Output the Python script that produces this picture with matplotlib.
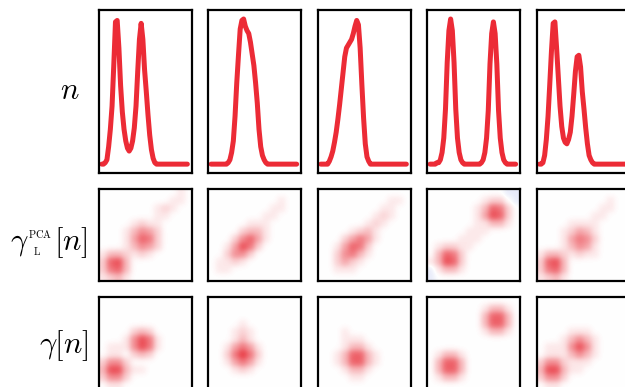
# -*- coding: utf-8 -*-
"""
Densities n(x) (top row) and their reduced density matrices:
PCA model gamma_L^PCA[n] (middle row) and exact gamma[n] (bottom row).
Output: out.png
"""
import numpy as np
import matplotlib
matplotlib.use("Agg")
from matplotlib import pyplot as plt
from matplotlib.colors import LinearSegmentedColormap

##############################################################################
# DATA
##############################################################################

# sample positions of n(x) (51 points across the box)
X = np.linspace(0.0, 1.0, 51)

N_1 = [0.00, 0.00, 0.01, 0.03, 0.12, 0.24, 0.40, 0.68, 0.98, 0.99,
       0.80, 0.54, 0.36, 0.24, 0.16, 0.11, 0.09, 0.11, 0.16, 0.25,
       0.40, 0.64, 0.86, 0.97, 0.86, 0.65, 0.50, 0.34, 0.20, 0.10,
       0.04, 0.01, 0.00, 0.00, 0.00, 0.00, 0.00, 0.00, 0.00, 0.00,
       0.00, 0.00, 0.00, 0.00, 0.00, 0.00, 0.00, 0.00, 0.00, 0.00,
       0.00]
N_2 = [0.00, 0.00, 0.00, 0.00, 0.00, 0.00, 0.00, 0.00, 0.00, 0.00,
       0.01, 0.03, 0.08, 0.16, 0.33, 0.56, 0.75, 0.93, 0.99, 1.00,
       0.95, 0.92, 0.90, 0.84, 0.76, 0.68, 0.56, 0.42, 0.24, 0.12,
       0.06, 0.03, 0.01, 0.00, 0.00, 0.00, 0.00, 0.00, 0.00, 0.00,
       0.00, 0.00, 0.00, 0.00, 0.00, 0.00, 0.00, 0.00, 0.00, 0.00,
       0.00]
N_3 = [0.00, 0.00, 0.00, 0.00, 0.00, 0.02, 0.05, 0.09, 0.15, 0.22,
       0.31, 0.41, 0.52, 0.63, 0.74, 0.80, 0.82, 0.84, 0.86, 0.90,
       0.95, 0.99, 0.96, 0.80, 0.55, 0.32, 0.14, 0.05, 0.02, 0.00,
       0.00, 0.00, 0.00, 0.00, 0.00, 0.00, 0.00, 0.00, 0.00, 0.00,
       0.00, 0.00, 0.00, 0.00, 0.00, 0.00, 0.00, 0.00, 0.00, 0.00,
       0.00]
N_4 = [0.00, 0.00, 0.00, 0.00, 0.01, 0.01, 0.03, 0.08, 0.18, 0.38,
       0.70, 0.92, 1.00, 0.92, 0.70, 0.38, 0.18, 0.08, 0.03, 0.01,
       0.00, 0.00, 0.00, 0.00, 0.00, 0.00, 0.00, 0.00, 0.00, 0.00,
       0.01, 0.03, 0.08, 0.18, 0.37, 0.69, 0.90, 0.98, 0.90, 0.69,
       0.37, 0.18, 0.08, 0.03, 0.01, 0.00, 0.00, 0.00, 0.00, 0.00,
       0.00]
N_5 = [0.00, 0.00, 0.01, 0.06, 0.17, 0.33, 0.55, 0.78, 0.97, 0.98,
       0.80, 0.60, 0.40, 0.26, 0.18, 0.15, 0.14, 0.17, 0.22, 0.33,
       0.48, 0.64, 0.74, 0.75, 0.67, 0.50, 0.38, 0.25, 0.14, 0.06,
       0.03, 0.01, 0.00, 0.00, 0.00, 0.00, 0.00, 0.00, 0.00, 0.00,
       0.00, 0.00, 0.00, 0.00, 0.00, 0.00, 0.00, 0.00, 0.00, 0.00,
       0.00]

# density matrices on a coarse 12x12 grid (top row first, as displayed),
# intensity 0..9, negative = blue
PCA_1 = [[0, 0, 0, 0, 0, 0, 0, 0, 0, 0, 1, 0],
         [0, 0, 0, 0, 0, 0, 0, 0, 0, 1, 1, 0],
         [0, 0, 0, 0, 0, 0, 0, 1, 2, 1, 0, 0],
         [0, 0, 0, 0, 0, 0, 0, 1, 1, 0, 0, 0],
         [0, 0, 0, 0, 1, 2, 1, 1, 0, 0, 0, 0],
         [0, 0, 0, 1, 3, 5, 4, 2, 0, 0, 0, 0],
         [0, 0, 0, 1, 4, 7, 6, 2, 0, 0, 0, 0],
         [0, 0, 0, 1, 3, 5, 4, 2, 0, 0, 0, 0],
         [1, 3, 3, 2, 1, 2, 1, 0, 0, 0, 0, 0],
         [2, 7, 8, 3, 0, 0, 0, 0, 0, 0, 0, 0],
         [2, 6, 7, 3, 0, 0, 0, 0, 0, 0, 0, 0],
         [1, 2, 3, 1, 0, 0, 0, 0, 0, 0, 0, 0]]
PCA_2 = [[0, 0, 0, 0, 0, 0, 0, 0, 0, 0, 0, 0],
         [0, 0, 0, 0, 0, 0, 0, 0, 0, 1, 0, 0],
         [0, 0, 0, 0, 0, 0, 0, 0, 1, 1, 0, 0],
         [0, 0, 0, 0, 0, 0, 0, 1, 1, 0, 0, 0],
         [0, 0, 0, 0, 0, 1, 1, 1, 0, 0, 0, 0],
         [0, 0, 0, 0, 2, 3, 3, 1, 0, 0, 0, 0],
         [0, 0, 0, 2, 5, 7, 4, 1, 0, 0, 0, 0],
         [0, 0, 1, 4, 8, 6, 2, 0, 0, 0, 0, 0],
         [0, 0, 2, 5, 5, 2, 0, 0, 0, 0, 0, 0],
         [0, 1, 1, 2, 1, 0, 0, 0, 0, 0, 0, 0],
         [0, 1, 1, 0, 0, 0, 0, 0, 0, 0, 0, 0],
         [0, 0, 0, 0, 0, 0, 0, 0, 0, 0, 0, 0]]
PCA_3 = [[0, 0, 0, 0, 0, 0, 0, 0, 0, 0, 0, 0],
         [0, 0, 0, 0, 0, 0, 0, 0, 0, 1, 1, 0],
         [0, 0, 0, 0, 0, 0, 0, 0, 1, 1, 0, 0],
         [0, 0, 0, 0, 0, 0, 0, 1, 2, 1, 0, 0],
         [0, 0, 0, 0, 0, 0, 1, 2, 1, 0, 0, 0],
         [0, 0, 0, 0, 1, 2, 3, 1, 0, 0, 0, 0],
         [0, 0, 0, 2, 4, 6, 4, 1, 0, 0, 0, 0],
         [0, 0, 1, 4, 7, 6, 2, 0, 0, 0, 0, 0],
         [0, 0, 2, 5, 6, 3, 1, 0, 0, 0, 0, 0],
         [0, 0, 2, 4, 2, 1, 0, 0, 0, 0, 0, 0],
         [0, 0, 1, 1, 1, 0, 0, 0, 0, 0, 0, 0],
         [0, 0, 0, 0, 0, 0, 0, 0, 0, 0, 0, 0]]
PCA_4 = [[0, 0, 0, 0, 0, 0, 0, 0, 0, 0, -1, -1],
         [0, 0, 0, 0, 0, 0, 0, 1, 2, 2, 0, -1],
         [0, 0, 0, 0, 0, 0, 1, 3, 7, 6, 2, 0],
         [0, 0, 0, 0, 0, 0, 1, 4, 8, 7, 2, 0],
         [0, 0, 0, 0, 0, 0, 1, 1, 3, 3, 1, 0],
         [0, 0, 0, 0, 0, 1, 1, 1, 0, 0, 0, 0],
         [0, 0, 0, 0, 1, 1, 1, 0, 0, 0, 0, 0],
         [0, 1, 2, 2, 1, 1, 0, 0, 0, 0, 0, 0],
         [0, 3, 7, 6, 2, 0, 0, 0, 0, 0, 0, 0],
         [1, 3, 8, 7, 2, 0, 0, 0, 0, 0, 0, 0],
         [-1, 1, 3, 3, 1, 0, 0, 0, 0, 0, 0, 0],
         [-1, 0, 0, 0, 0, 0, 0, 0, 0, 0, 0, 0]]
PCA_5 = [[0, 0, 0, 0, 0, 0, 0, 0, 0, 0, 0, 0],
         [0, 0, 0, 0, 0, 0, 0, 0, 0, 1, 0, 0],
         [0, 0, 0, 0, 0, 0, 0, 0, 1, 1, 0, 0],
         [0, 0, 0, 0, 0, 0, 0, 1, 1, 0, 0, 0],
         [0, 0, 0, 0, 1, 1, 1, 1, 0, 0, 0, 0],
         [0, 0, 0, 1, 2, 4, 3, 1, 0, 0, 0, 0],
         [0, 0, 0, 1, 4, 6, 5, 2, 0, 0, 0, 0],
         [0, 0, 0, 1, 3, 5, 4, 1, 0, 0, 0, 0],
         [1, 3, 3, 2, 1, 2, 1, 1, 0, 0, 0, 0],
         [2, 7, 8, 3, 0, 0, 0, 0, 0, 0, 0, 0],
         [2, 6, 7, 3, 0, 0, 0, 0, 0, 0, 0, 0],
         [1, 2, 3, 1, 0, 0, 0, 0, 0, 0, 0, 0]]

GAMMA_1 = [[0, 0, 0, 0, 0, 0, 0, 0, 0, 0, 0, 0],
           [0, 0, 0, 0, 0, 0, 0, 0, 0, 0, 0, 0],
           [0, 0, 0, 0, 0, 0, 0, 0, 0, 0, 0, 0],
           [0, 0, 0, 0, 0, 0, 0, 0, 0, 0, 0, 0],
           [0, 0, 0, 0, 2, 3, 2, 0, 0, 0, 0, 0],
           [0, 0, 0, 1, 5, 8, 6, 1, 0, 0, 0, 0],
           [0, 1, 1, 1, 5, 8, 6, 1, 0, 0, 0, 0],
           [0, 1, 1, 0, 2, 3, 2, 0, 0, 0, 0, 0],
           [2, 5, 5, 2, 0, 0, 0, 0, 0, 0, 0, 0],
           [3, 8, 8, 3, 1, 1, 0, 0, 0, 0, 0, 0],
           [2, 5, 5, 2, 0, 0, 0, 0, 0, 0, 0, 0],
           [0, 1, 1, 0, 0, 0, 0, 0, 0, 0, 0, 0]]
GAMMA_2 = [[0, 0, 0, 0, 0, 0, 0, 0, 0, 0, 0, 0],
           [0, 0, 0, 0, 0, 0, 0, 0, 0, 0, 0, 0],
           [0, 0, 0, 0, 0, 0, 0, 0, 0, 0, 0, 0],
           [0, 0, 0, 0, 1, 0, 0, 0, 0, 0, 0, 0],
           [0, 0, 0, 1, 2, 1, 0, 0, 0, 0, 0, 0],
           [0, 0, 0, 1, 3, 1, 0, 0, 0, 0, 0, 0],
           [0, 0, 1, 4, 6, 4, 1, 0, 0, 0, 0, 0],
           [0, 0, 2, 6, 9, 6, 2, 0, 0, 0, 0, 0],
           [0, 0, 1, 4, 6, 4, 1, 0, 0, 0, 0, 0],
           [0, 0, 0, 1, 2, 1, 0, 0, 0, 0, 0, 0],
           [0, 0, 0, 0, 0, 0, 0, 0, 0, 0, 0, 0],
           [0, 0, 0, 0, 0, 0, 0, 0, 0, 0, 0, 0]]
GAMMA_3 = [[0, 0, 0, 0, 0, 0, 0, 0, 0, 0, 0, 0],
           [0, 0, 0, 0, 0, 0, 0, 0, 0, 0, 0, 0],
           [0, 0, 0, 0, 0, 0, 0, 0, 0, 0, 0, 0],
           [0, 0, 0, 0, 0, 0, 0, 0, 0, 0, 0, 0],
           [0, 0, 0, 1, 0, 0, 0, 0, 0, 0, 0, 0],
           [0, 0, 0, 1, 1, 1, 0, 0, 0, 0, 0, 0],
           [0, 0, 0, 1, 3, 3, 1, 0, 0, 0, 0, 0],
           [0, 0, 1, 3, 7, 7, 3, 1, 0, 0, 0, 0],
           [0, 0, 1, 3, 7, 7, 3, 1, 0, 0, 0, 0],
           [0, 0, 0, 1, 3, 3, 1, 0, 0, 0, 0, 0],
           [0, 0, 0, 0, 1, 1, 0, 0, 0, 0, 0, 0],
           [0, 0, 0, 0, 0, 0, 0, 0, 0, 0, 0, 0]]
GAMMA_4 = [[0, 0, 0, 0, 0, 0, 0, 0, 0, 0, 0, 0],
           [0, 0, 0, 0, 0, 0, 0, 1, 3, 3, 1, 0],
           [0, 0, 0, 0, 0, 0, 0, 3, 7, 7, 3, 0],
           [0, 0, 0, 0, 0, 0, 0, 3, 7, 7, 3, 0],
           [0, 0, 0, 0, 0, 0, 0, 1, 3, 3, 1, 0],
           [0, 0, 0, 0, 0, 0, 0, 0, 0, 0, 0, 0],
           [0, 0, 0, 0, 0, 0, 0, 0, 0, 0, 0, 0],
           [0, 1, 3, 3, 1, 0, 0, 0, 0, 0, 0, 0],
           [0, 3, 7, 7, 3, 0, 0, 0, 0, 0, 0, 0],
           [0, 3, 7, 7, 3, 0, 0, 0, 0, 0, 0, 0],
           [0, 1, 3, 3, 1, 0, 0, 0, 0, 0, 0, 0],
           [0, 0, 0, 0, 0, 0, 0, 0, 0, 0, 0, 0]]
GAMMA_5 = [[0, 0, 0, 0, 0, 0, 0, 0, 0, 0, 0, 0],
           [0, 0, 0, 0, 0, 0, 0, 0, 0, 0, 0, 0],
           [0, 0, 0, 0, 0, 0, 0, 0, 0, 0, 0, 0],
           [0, 0, 0, 0, 0, 0, 0, 0, 0, 0, 0, 0],
           [0, 0, 0, 0, 1, 1, 1, 0, 0, 0, 0, 0],
           [0, 0, 0, 1, 3, 5, 3, 1, 0, 0, 0, 0],
           [0, 1, 1, 1, 5, 8, 5, 1, 0, 0, 0, 0],
           [0, 1, 1, 1, 3, 5, 3, 1, 0, 0, 0, 0],
           [2, 5, 5, 2, 1, 1, 1, 0, 0, 0, 0, 0],
           [3, 8, 8, 3, 1, 1, 0, 0, 0, 0, 0, 0],
           [2, 5, 5, 2, 0, 0, 0, 0, 0, 0, 0, 0],
           [0, 1, 1, 0, 0, 0, 0, 0, 0, 0, 0, 0]]

DENSITIES = [N_1, N_2, N_3, N_4, N_5]
PCA_MATS = [PCA_1, PCA_2, PCA_3, PCA_4, PCA_5]
GAMMA_MATS = [GAMMA_1, GAMMA_2, GAMMA_3, GAMMA_4, GAMMA_5]

##############################################################################
# STYLE / LAYOUT (pixels of a 625x387 canvas)
##############################################################################

W, H = 625.0, 387.0
LINE_RED = '#ec2b36'
CMAP = LinearSegmentedColormap.from_list('bwr_soft', ['#2c4bd0', '#ffffff', '#e8303a'])
VMAX = 9

COL_LEFT = [99.0, 208.3, 318.0, 427.3, 536.7]
PANEL_W = 93.0
ROW_SPAN = [(10.0, 172.7), (189.0, 281.0), (297.0, 389.0)]

plt.rcParams['mathtext.fontset'] = 'cm'
plt.rcParams['font.family'] = 'DejaVu Serif'

fig = plt.figure(figsize=(W / 100, H / 100), dpi=100)


def add_panel(x_left, row):
    y_top, y_bot = ROW_SPAN[row]
    ax = fig.add_axes([x_left / W, 1 - y_bot / H, PANEL_W / W, (y_bot - y_top) / H])
    ax.set_xticks([])
    ax.set_yticks([])
    for sp in ax.spines.values():
        sp.set_linewidth(1.6)
        sp.set_color('black')
    return ax


def ftext(x, y, s, size, **kw):
    fig.text(x / W, 1 - y / H, s, fontsize=size, **kw)


##############################################################################
# PANELS
##############################################################################

for k, x_left in enumerate(COL_LEFT):
    # n(x)
    ax = add_panel(x_left, 0)
    ax.plot(X, DENSITIES[k], color=LINE_RED, lw=3.6,
            solid_joinstyle='round', solid_capstyle='round')
    ax.set_xlim(-0.0326, 1.0543)
    ax.set_ylim(-0.059, 1.062)

    # gamma_L^PCA[n] and gamma[n]
    for row, mats in ((1, PCA_MATS), (2, GAMMA_MATS)):
        ax = add_panel(x_left, row)
        ax.imshow(np.array(mats[k], dtype=float), cmap=CMAP, vmin=-VMAX, vmax=VMAX,
                  interpolation='gaussian', aspect='auto', extent=(0, 1, 0, 1))
        ax.set_xlim(0, 1)
        ax.set_ylim(0, 1)

##############################################################################
# ROW LABELS
##############################################################################

ftext(80, 99, r'$n$', 22, ha='right', va='baseline')

ftext(88, 250, r'$[n]$', 22, ha='right', va='baseline')
ftext(29, 250, r'$\gamma$', 22, ha='right', va='baseline')
ftext(28, 238, r'$\mathrm{PCA}$', 7.5, ha='left', va='baseline')
ftext(33, 255, r'$\mathrm{L}$', 7.5, ha='left', va='baseline')

ftext(88, 353, r'$\gamma[n]$', 22, ha='right', va='baseline')

fig.savefig('out.png', dpi=100)
plt.close(fig)
